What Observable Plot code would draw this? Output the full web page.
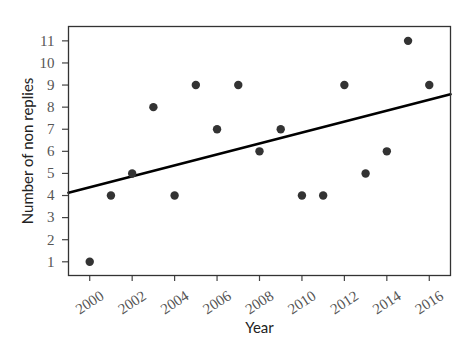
<!DOCTYPE html>
<html>
<head>
<meta charset="utf-8">
<script src="https://cdn.jsdelivr.net/npm/d3@7"></script>
<script src="https://cdn.jsdelivr.net/npm/@observablehq/plot@0.6"></script>
<style>
  html, body { margin: 0; padding: 0; background: #fff; }
</style>
</head>
<body>
<div id="chart"></div>
<script>
const years = [2000, 2001, 2002, 2003, 2004, 2005, 2006, 2007, 2008, 2009, 2010, 2011, 2012, 2013, 2014, 2015, 2016];
const nonReplies = [1, 4, 5, 8, 4, 9, 7, 9, 6, 7, 4, 4, 9, 5, 6, 11, 9];
const xTicks = [2000, 2002, 2004, 2006, 2008, 2010, 2012, 2014, 2016];
const yTicks = [1, 2, 3, 4, 5, 6, 7, 8, 9, 10, 11];
const xDomain = [1999, 2017];
const yDomain = [0.38, 11.65];
const xLabel = "Year";
const yLabel = "Number of non replies";

const data = years.map((year, i) => ({year, value: nonReplies[i]}));

// least-squares fit, drawn across the whole x domain
const mx = d3.mean(years), my = d3.mean(nonReplies);
const slope = d3.sum(years, (x, i) => (x - mx) * (nonReplies[i] - my)) / d3.sum(years, x => (x - mx) ** 2);
const fit = xDomain.map(x => ({year: x, value: my + slope * (x - mx)}));

const tickFont = "'Liberation Serif', 'DejaVu Serif', serif";
const labelFont = "Lato, 'Open Sans', sans-serif";

const chart = Plot.plot({
  width: 476,
  height: 357,
  marginLeft: 68,
  marginRight: 26,
  marginTop: 26,
  marginBottom: 82,
  style: {background: "#fff", overflow: "visible"},
  x: {domain: xDomain},
  y: {domain: yDomain},
  marks: [
    Plot.axisX({ticks: xTicks, tickSize: 6, text: null, label: null, stroke: "#444", strokeWidth: 1.2}),
    Plot.text(xTicks, {x: d => d, text: d => String(d), frameAnchor: "bottom", dy: 27,
      rotate: -33, textAnchor: "middle", lineAnchor: "middle",
      fill: "#555", fontSize: 15, fontFamily: tickFont}),
    Plot.axisY({
      ticks: yTicks, tickFormat: "d", tickSize: 6, tickPadding: 8,
      label: null, stroke: "#444", strokeWidth: 1.2, fill: "#555",
      fontSize: 15, fontFamily: tickFont
    }),
    Plot.line(fit, {x: "year", y: "value", stroke: "#000", strokeWidth: 2.6}),
    Plot.dot(data, {x: "year", y: "value", r: 4.2, fill: "#333", stroke: "none"}),
    Plot.frame({stroke: "#333", strokeWidth: 1.3}),
    Plot.text([xLabel], {frameAnchor: "bottom", dy: 53, lineAnchor: "middle", textAnchor: "middle", text: d => d,
      fontSize: 15, fontFamily: labelFont, fill: "#222"}),
    Plot.text([yLabel], {frameAnchor: "left", dx: -40, rotate: -90, lineAnchor: "middle", textAnchor: "middle", text: d => d,
      fontSize: 15, fontFamily: labelFont, fill: "#222"})
  ]
});
document.getElementById("chart").append(chart);
</script>
</body>
</html>
